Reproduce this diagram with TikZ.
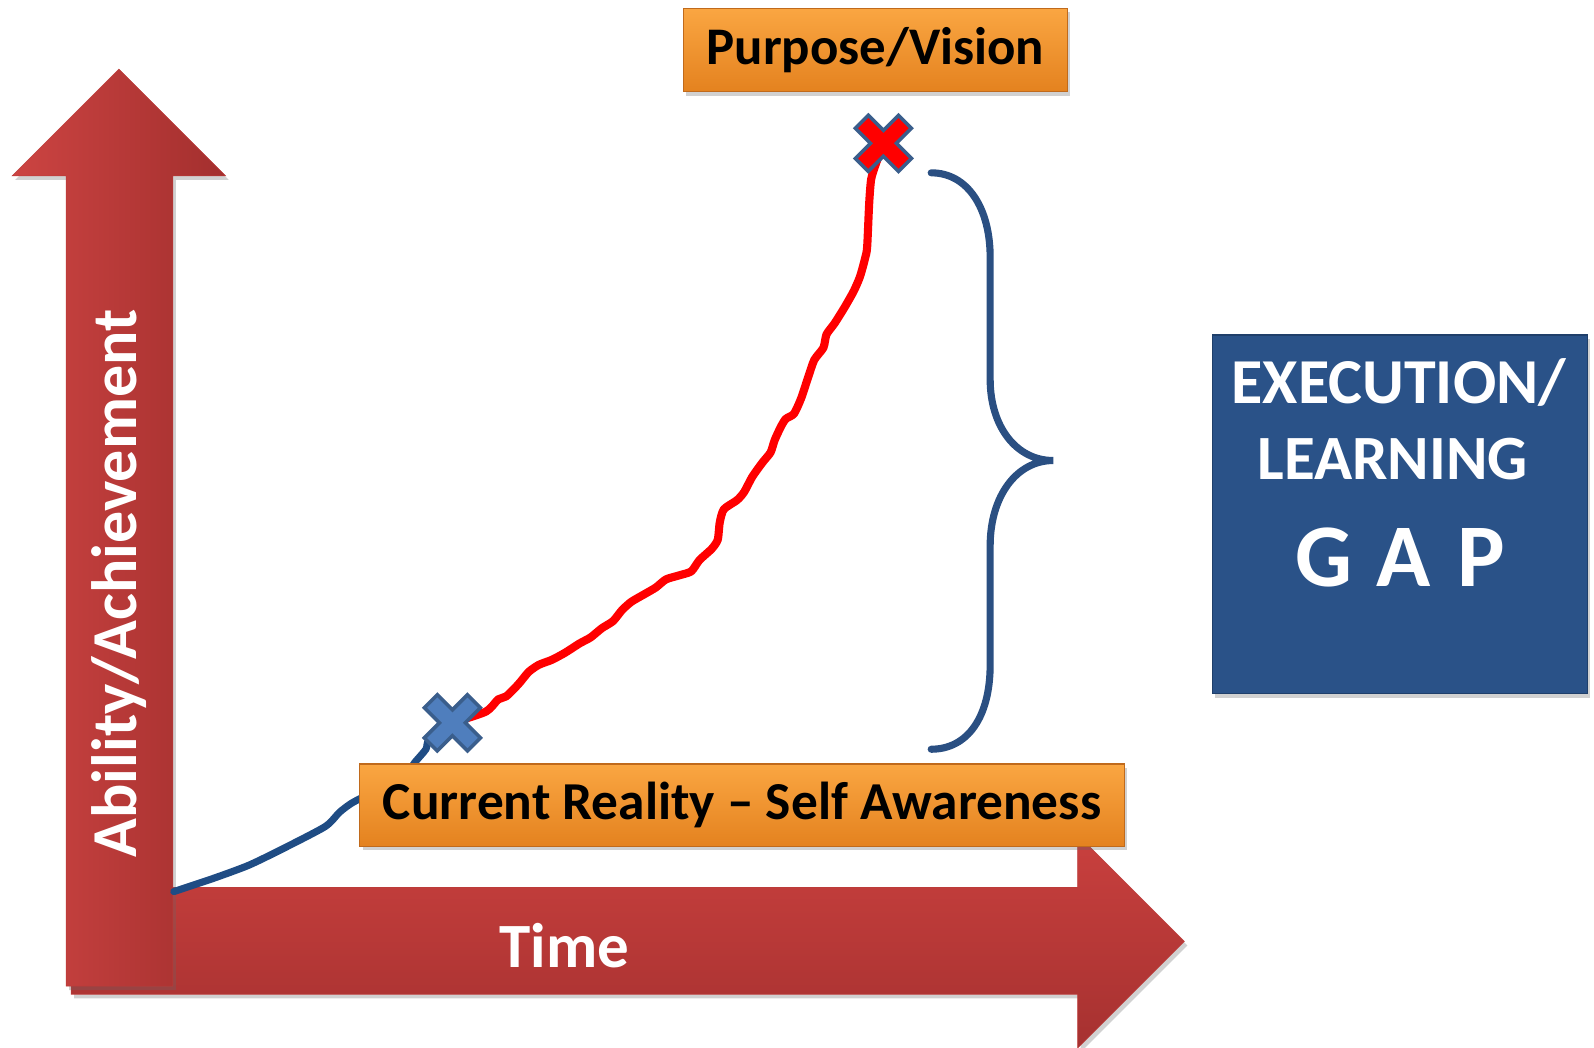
\documentclass[tikz,border=0pt]{standalone}
\usepackage{fontspec}
\setmainfont{Carlito}
\usetikzlibrary{shadows}
\definecolor{arrL}{HTML}{CC4442}
\definecolor{arrR}{HTML}{A32F2E}
\definecolor{arrT}{HTML}{C9403E}
\definecolor{arrB}{HTML}{A63130}
\definecolor{arrEdge}{HTML}{BC3C3A}
\definecolor{orTop}{HTML}{FAA642}
\definecolor{orBot}{HTML}{E4821F}
\definecolor{orEdge}{HTML}{C06A1C}
\definecolor{gapBlue}{HTML}{2A5288}
\definecolor{gapEdge}{HTML}{1F3F6A}
\definecolor{lineBlue}{HTML}{1F4C84}
\definecolor{braceBlue}{HTML}{2A4F82}
\definecolor{crossBlue}{HTML}{4F7EBD}
\definecolor{crossEdge}{HTML}{3A5E8C}
\tikzset{
  softshadow/.style={drop shadow={opacity=0.3, shadow xshift=3pt, shadow yshift=-4pt, fill=black!60}},
  orangebox/.style={draw=orEdge, line width=1.2pt, top color=orTop, bottom color=orBot,
    inner sep=0pt, softshadow, text=black, font=\bfseries\fontsize{#1}{#1}\selectfont},
  gapbox/.style={draw=gapEdge, line width=1.2pt, fill=gapBlue, inner sep=0pt, softshadow},
  whitetext/.style={text=white, inner sep=0pt, font=\bfseries\fontsize{#1}{#1}\selectfont},
  pics/xmark/.style={code={
    \path[pic actions, line width=3.5pt, line join=miter, rotate=45]
      (9,30) -- (9,9) -- (30,9) -- (30,-9) -- (9,-9) -- (9,-30) -- (-9,-30) -- (-9,-9)
      -- (-30,-9) -- (-30,9) -- (-9,9) -- (-9,30) -- cycle;
  }},
}
\begin{document}
\begin{tikzpicture}[x=1pt, y=-1pt]
\useasboundingbox (0,0) rectangle (1568,1030);

% horizontal (time) arrow
\shade[top color=arrT, bottom color=arrB, draw=arrEdge, line width=0.6pt, softshadow]
  (70,873) -- (1060,873) -- (1060,821) -- (1165,926) -- (1060,1031) -- (1060,978) -- (70,978) -- cycle;
% vertical (ability) arrow
\shade[left color=arrL, right color=arrR, draw=arrEdge, line width=0.6pt, softshadow]
  (65,970) -- (65,173) -- (12,173) -- (117,68) -- (222,173) -- (170,173) -- (170,970) -- cycle;

\node[whitetext=62] (time) at (555,930) {Time};
\node[whitetext=63, rotate=90] (ability) at (117,574) {Ability/Achievement};

% curve points
\coordinate (origin) at (171,877);
\coordinate (bx) at (445,711);
\coordinate (rx) at (869,141);

% red line
\draw[red, line width=8pt, line join=round, line cap=round]
  plot[smooth, tension=0.4] coordinates {(bx) (478,700) (490,688) (498,685) (510,673) (520,661) (530,654)
  (543,649) (556,642) (570,633) (581,627) (592,618) (603,611) (612,600) (621,592) (633,585) (645,578)
  (655,570) (668,566) (680,562) (688,551) (700,540) (706,531) (708,514) (712,501) (725,492) (732,484)
  (740,469) (750,455) (758,445) (762,433) (768,420) (773,412) (781,407) (788,392) (795,371) (801,354)
  (810,342) (813,329) (821,318) (831,302) (840,286) (846,272) (851,254) (853,243) (855,200) (857,176)
  (862,160) (rx)};

% blue line
\draw[lineBlue, line width=7pt, line join=round, line cap=round]
  plot[smooth, tension=0.4] coordinates {(origin) (210,864) (245,851) (280,834) (320,813) (334,799)
  (346,790) (365,780) (398,763) (408,750) (419,737) (422,728) (bx)};

% crosses
\pic[fill=crossBlue, draw=crossEdge] at (bx) {xmark};
\pic[fill=red, draw=crossEdge] at (rx) {xmark};

% brace
\draw[braceBlue, line width=7pt, line cap=round]
  (916,170) .. controls (952,170) and (974,205) .. (974,253) -- (974,373)
  .. controls (974,420) and (1000,453) .. (1036,453)
  .. controls (1000,453) and (974,488) .. (974,537) -- (974,654)
  .. controls (974,705) and (952,737) .. (916,737);

% boxes
\node[orangebox=52, minimum width=378pt, minimum height=82pt] (purpose) at (861,49) {\raisebox{-2pt}{Purpose/Vision}};
\node[orangebox=52.5, minimum width=752pt, minimum height=81pt] (current) at (730,792) {\raisebox{-2pt}{Current Reality -- Self Awareness}};
\node[gapbox, minimum width=369pt, minimum height=353pt] (gap) at (1377,506) {};
\node[whitetext=63, anchor=base] (exec) at (1376,397) {EXECUTION/};
\node[whitetext=62, anchor=base] (learn) at (1370,472) {LEARNING};
\node[whitetext=88, anchor=base] (gaptxt) at (1377,577) {G\kern24pt A\kern26pt P};
\end{tikzpicture}
\end{document}
